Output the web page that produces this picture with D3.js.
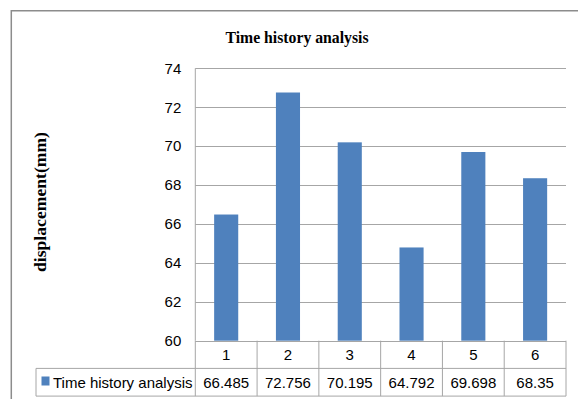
<!DOCTYPE html>
<html><head><meta charset="utf-8">
<script src="https://cdn.jsdelivr.net/npm/d3@7/dist/d3.min.js"></script>
<style>body{margin:0;background:#fff;}svg{display:block;}</style>
</head><body>
<script>
const categories = ["1","2","3","4","5","6"];
const values = [66.485, 72.756, 70.195, 64.792, 69.698, 68.35];
const valueLabels = ["66.485","72.756","70.195","64.792","69.698","68.35"];
const yTicks = [60,62,64,66,68,70,72,74];
const seriesName = "Time history analysis";

const W = 578, H = 399;
const svg = d3.select("body").append("svg").attr("width", W).attr("height", H);
const pLeft = 195.3, pRight = 566, pTop = 68.3, pBottom = 340.7;
const rowH = 27.7;
const tickFont = "'Liberation Sans Narrow','Arial Narrow','Liberation Sans',sans-serif";

// outer frame
svg.append("path").attr("d", `M11.3,${H} V10.7 H${W}`).attr("fill","none").attr("stroke","#8c8c8c").attr("stroke-width",1.5);

const x = d3.scaleBand().domain(categories).range([pLeft, pRight]).paddingInner(0).paddingOuter(0);
const y = d3.scaleLinear().domain([60,74]).range([pBottom, pTop]);

// gridlines
svg.append("g").selectAll("line").data(yTicks).join("line")
  .attr("x1", pLeft).attr("x2", pRight)
  .attr("y1", d => Math.round(y(d))+0.5).attr("y2", d => Math.round(y(d))+0.5)
  .attr("stroke","#a6a6a6").attr("stroke-width",1);
svg.append("line").attr("x1",pLeft).attr("x2",pLeft).attr("y1",pTop).attr("y2",pBottom).attr("stroke","#a6a6a6");

// y tick labels
const yAxis = d3.axisLeft(y).tickValues(yTicks).tickSize(0).tickPadding(14);
const ga = svg.append("g").attr("transform",`translate(${pLeft},0)`).call(yAxis);
ga.select(".domain").remove();
ga.selectAll("text").attr("font-family",tickFont).attr("font-size",15).attr("fill","#000");

// bars
const bw = x.bandwidth()*0.39;
svg.append("g").selectAll("rect").data(values).join("rect")
  .attr("x",(d,i)=>x(categories[i]) + (x.bandwidth()-bw)/2)
  .attr("width",bw)
  .attr("y",d=>y(d)).attr("height",d=>y(60)-y(d))
  .attr("fill","#4f81bd");

// data table
const tbl = svg.append("g").attr("stroke","#a6a6a6").attr("fill","none");
tbl.append("line").attr("x1",pLeft).attr("x2",pRight).attr("y1",pBottom+rowH).attr("y2",pBottom+rowH);
tbl.append("line").attr("x1",36).attr("x2",pRight).attr("y1",pBottom+rowH*2).attr("y2",pBottom+rowH*2);
tbl.append("line").attr("x1",36).attr("x2",pLeft).attr("y1",pBottom+rowH).attr("y2",pBottom+rowH);
tbl.append("line").attr("x1",36).attr("x2",36).attr("y1",pBottom+rowH).attr("y2",pBottom+rowH*2);
tbl.selectAll(".v").data(d3.range(categories.length+1)).join("line")
  .attr("x1",i=>pLeft+i*x.bandwidth()).attr("x2",i=>pLeft+i*x.bandwidth())
  .attr("y1",pBottom).attr("y2",pBottom+rowH*2);

svg.append("g").selectAll("text").data(categories).join("text")
  .attr("x",d=>x(d)+x.bandwidth()/2).attr("y",pBottom+rowH/2+5.5)
  .attr("text-anchor","middle").attr("font-family",tickFont).attr("font-size",15).text(d=>d);
svg.append("g").selectAll("text").data(valueLabels).join("text")
  .attr("x",(d,i)=>x(categories[i])+x.bandwidth()/2).attr("y",pBottom+rowH*1.5+5.5)
  .attr("text-anchor","middle").attr("font-family",tickFont).attr("font-size",15).text(d=>d);

// legend key in table
svg.append("rect").attr("x",41.5).attr("y",376.5).attr("width",8).attr("height",9).attr("fill","#4f81bd");
svg.append("text").attr("x",53).attr("y",pBottom+rowH*1.5+5.5)
  .attr("font-family",tickFont).attr("font-size",15).text(seriesName);

// title
svg.append("text").attr("x",297).attr("y",43).attr("text-anchor","middle")
  .attr("font-family","'Liberation Serif','Times New Roman',serif").attr("font-weight","bold").attr("font-size",17)
  .attr("textLength",143).attr("lengthAdjust","spacingAndGlyphs")
  .text("Time history analysis");
// y label
svg.append("text").attr("transform","translate(45.5,202) rotate(-90)").attr("text-anchor","middle")
  .attr("font-family","'Liberation Serif','Times New Roman',serif").attr("font-weight","bold").attr("font-size",17.5)
  .attr("textLength",140).attr("lengthAdjust","spacingAndGlyphs")
  .text("displacement(mm)");
</script>
</body></html>
